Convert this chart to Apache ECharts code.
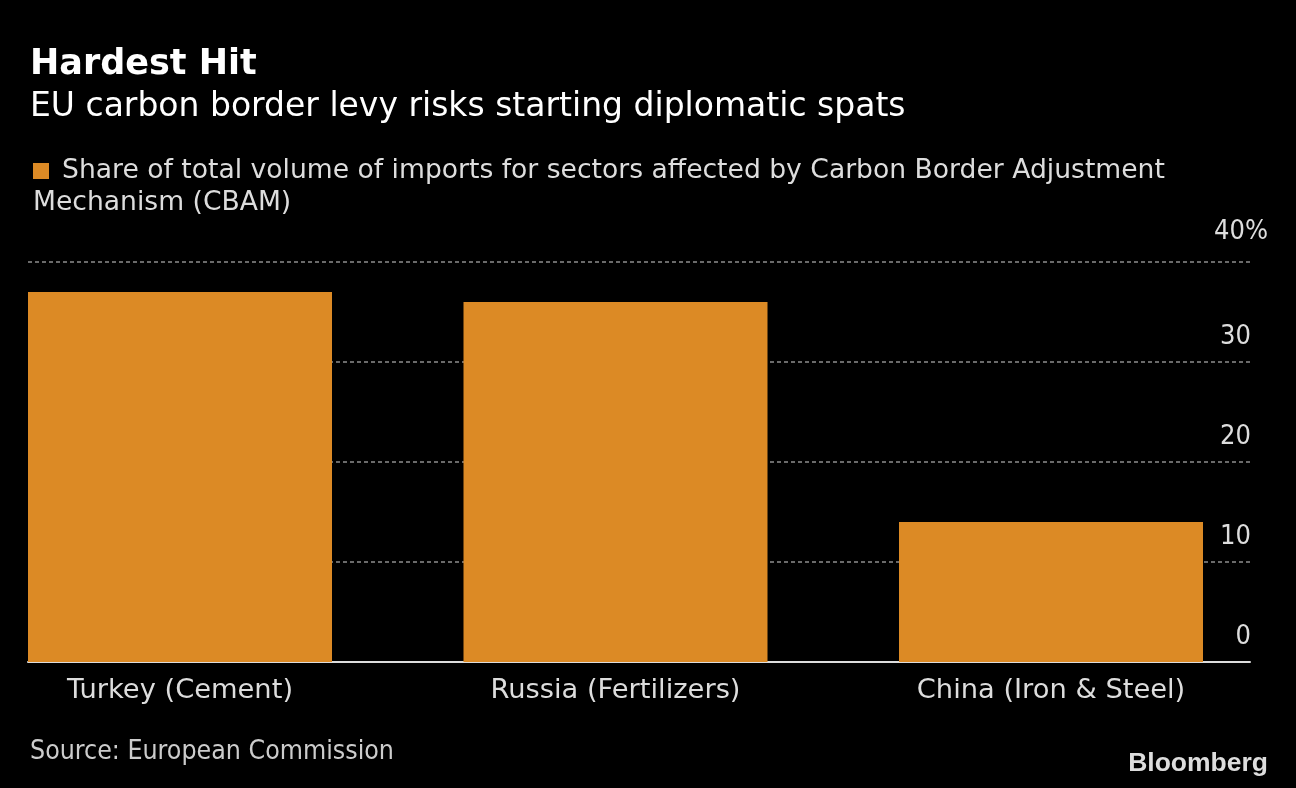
<!DOCTYPE html>
<html><head><meta charset="utf-8">
<script src="https://cdn.jsdelivr.net/npm/echarts@6/dist/echarts.min.js"></script>
<style>html,body{margin:0;padding:0;background:#000;}#c{width:1296px;height:788px;}</style>
</head><body><div id="c"></div>
<script>
const categories = ['Turkey (Cement)', 'Russia (Fertilizers)', 'China (Iron & Steel)'];
const shareValues = [37.0, 36.0, 14.0];
const yTicks = [0, 10, 20, 30, 40];
const FONT = '"DejaVu Sans", sans-serif';
const FONTC = '"DejaVu Sans Condensed", "DejaVu Sans", sans-serif';

const chart = echarts.init(document.getElementById('c'));
chart.setOption({
  backgroundColor: '#000',
  animation: false,
  title: [
    { text: 'Hardest Hit', left: 25, top: 42, textStyle: { color: '#fff', fontFamily: FONT, fontWeight: 'bold', fontSize: 35 } },
    { text: 'EU carbon border levy risks starting diplomatic spats', left: 25, top: 86, textStyle: { color: '#fff', fontFamily: FONT, fontWeight: 'normal', fontSize: 33 } },
    { text: '{sq|}{gap|}Share of total volume of imports for sectors affected by Carbon Border Adjustment\nMechanism (CBAM)', left: 28, top: 150,
      textStyle: { color: '#ddd', fontFamily: FONT, fontWeight: 'normal', fontSize: 26.6, lineHeight: 32,
        rich: { sq: { backgroundColor: '#dc8a25', width: 16, height: 16 }, gap: { width: 13 } } } },
    { text: 'Source: European Commission', left: 25, top: 734, textStyle: { color: '#ccc', fontFamily: FONTC, fontWeight: 'normal', fontSize: 26.5 } },
    { text: 'Bloomberg', right: 23, top: 745, textStyle: { color: '#ddd', fontFamily: '"Liberation Sans", Arial, sans-serif', fontWeight: 'bold', fontSize: 26.5 } }
  ],
  grid: [
    { left: 180, right: 245, top: 262, bottom: 126 },
    { left: 28, right: 46, top: 262, bottom: 126 }
  ],
  xAxis: [
    { type: 'category', gridIndex: 0, data: categories, boundaryGap: false, axisLine: { show: false }, axisTick: { show: false },
      axisLabel: { color: '#ddd', fontFamily: FONT, fontSize: 27.3, margin: 15 } },
    { type: 'value', gridIndex: 1, min: 0, max: 1, axisLine: { show: true, onZero: false, lineStyle: { color: '#ddd', width: 2 } },
      axisTick: { show: false }, axisLabel: { show: false }, splitLine: { show: false } }
  ],
  yAxis: [
    { type: 'value', gridIndex: 0, min: 0, max: 40, show: false, splitLine: { show: false } },
    { type: 'value', gridIndex: 1, min: 0, max: 40, interval: 10, position: 'right',
      axisLine: { show: false }, axisTick: { show: false },
      axisLabel: { inside: true, margin: -1, color: '#ddd', fontFamily: FONTC, fontSize: 27,
        verticalAlign: 'bottom', lineHeight: 50,
        formatter: v => (v === 40 ? '' : String(v)) },
      splitLine: { show: true, lineStyle: { color: '#6a6a6a', type: [4, 3], width: 2 } } }
  ],
  graphic: [
    { type: 'text', right: 28, top: 218, style: { text: '40%', fill: '#ddd', font: '27px ' + FONTC } }
  ],
  series: [
    { type: 'bar', xAxisIndex: 0, yAxisIndex: 0, data: shareValues, barWidth: 304, clip: false, itemStyle: { color: '#dc8a25' }, z: 3 }
  ]
});
</script></body></html>
